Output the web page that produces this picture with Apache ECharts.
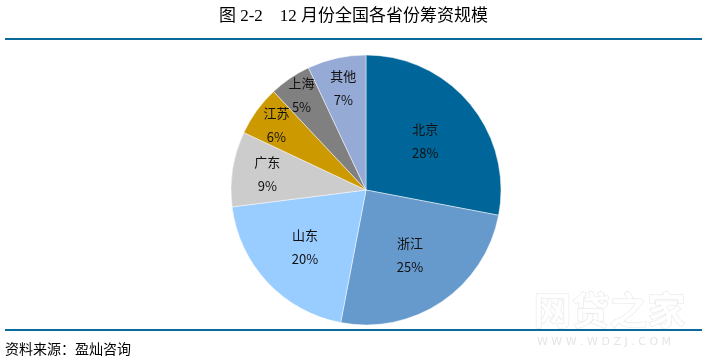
<!DOCTYPE html>
<html><head><meta charset="utf-8">
<script src="https://cdn.jsdelivr.net/npm/echarts@6/dist/echarts.min.js"></script>
<style>html,body{margin:0;padding:0;background:#fff}#c{width:707px;height:361px}</style>
</head><body><div id="c"></div>
<script>
var categories = ['北京','浙江','山东','广东','江苏','上海','其他'];
var values = [28, 25, 20, 9, 6, 5, 7];
var colors = ['#006699','#6699CC','#99CCFF','#CCCCCC','#CC9900','#808080','#95AAD5'];
var labelRadius = [0.57, 0.58, 0.62, 0.74, 0.82, 0.85, 0.77];

var CX = 366, CY = 190, R = 135;
var chart = echarts.init(document.getElementById('c'));
var total = values.reduce(function(a,b){return a+b;},0);
var cum = [];
(function(){var s=0;for(var i=0;i<values.length;i++){cum.push(s+values[i]/2);s+=values[i];}})();

chart.setOption({
  animation:false,
  title:{text:'图 2-2    12 月份全国各省份筹资规模',left:'center',top:3,
    textStyle:{fontFamily:'"Liberation Serif","Noto Sans CJK SC"',fontSize:17,fontWeight:'normal',color:'#000'}},
  graphic:[
    {type:'rect',shape:{x:5,y:38,width:697,height:2},style:{fill:'#0B6A9B'}},
    {type:'rect',shape:{x:5,y:329,width:697,height:2},style:{fill:'#0B6A9B'}},
    {type:'text',left:5,top:342,style:{text:'资料来源：盈灿咨询',fontSize:14,fontFamily:'"Noto Sans CJK SC"',fill:'#000'}},
    {type:'text',left:533,top:290,z:10,style:{text:'网贷之家',fontSize:38,fontWeight:'bold',fontFamily:'"Noto Sans CJK SC"',fill:'rgba(255,255,255,0.85)',stroke:'rgba(200,200,200,0.45)',lineWidth:1}},
    {type:'text',left:537,top:337,z:10,style:{text:'W W W . W D Z J . C O M',fontSize:11,fontFamily:'"DejaVu Sans"',fill:'rgba(210,210,210,0.6)'}}
  ],
  series:[{
    type:'pie',
    center:[CX,CY],radius:R,startAngle:90,clockwise:true,
    data:categories.map(function(n,i){return {name:n,value:values[i],itemStyle:{color:colors[i]}};}),
    itemStyle:{borderColor:'rgba(255,255,255,0.6)',borderWidth:0.8},
    label:{show:true,position:'inside',formatter:function(p){return p.name+'\n'+p.value+'%';},
      fontSize:13,lineHeight:24,color:'#111',fontFamily:'"Noto Sans CJK SC"'},
    labelLine:{show:false},
    emphasis:{disabled:true},
    labelLayout:function(p){
      var i=p.dataIndex;
      var ang=cum[i]/total*2*Math.PI;
      var tx=CX+Math.sin(ang)*R*labelRadius[i];
      var ty=CY-Math.cos(ang)*R*labelRadius[i];
      var lx=p.labelRect.x+p.labelRect.width/2, ly=p.labelRect.y+p.labelRect.height/2;
      return {dx:tx-lx,dy:ty-ly};
    }
  }]
});
</script></body></html>
